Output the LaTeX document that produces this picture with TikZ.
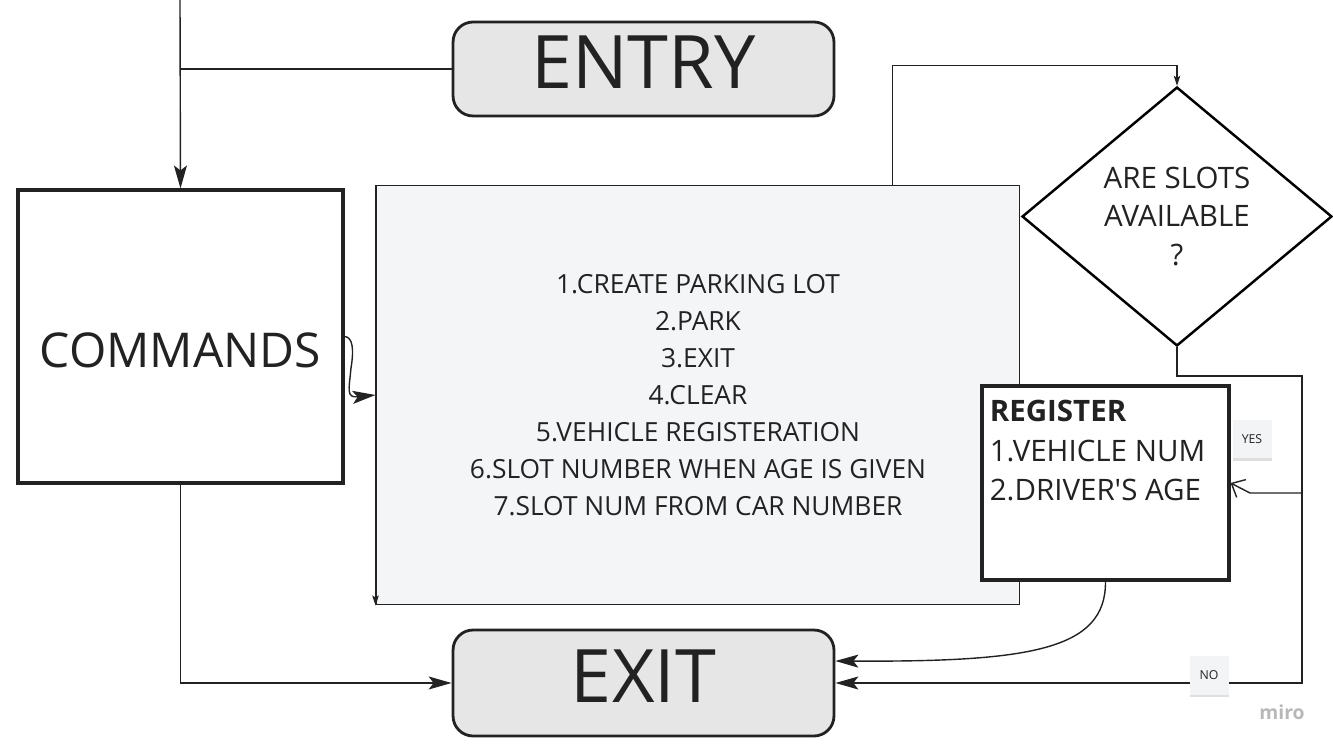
\documentclass[tikz,border=0pt]{standalone}
\usepackage{fontspec}
\setmainfont{Open Sans}
\usetikzlibrary{shapes.geometric,arrows.meta,calc,shadows}
\definecolor{ink}{HTML}{222222}
\definecolor{termfill}{HTML}{E6E6E6}
\definecolor{listfill}{HTML}{F4F5F7}
\definecolor{tagfill}{HTML}{F3F4F6}

\begin{document}
\begin{tikzpicture}[x=0.02cm,y=-0.02cm,
		line/.style={ink,line width=0.8pt},
		arr/.style={ink,line width=0.8pt,-{Stealth[length=4.6mm,width=2.6mm,inset=1mm]}},
		smallarr/.style={ink,line width=0.6pt,-{Stealth[length=2mm,width=1.3mm,inset=0.4mm]}},
		openarr/.style={ink,line width=0.8pt,-{Straight Barb[length=2.2mm,width=4mm]}},
		term/.style={draw=ink,line width=1.6pt,rounded corners=0.4cm,fill=termfill,inner sep=0pt,minimum width=7.62cm,text height=30pt,text depth=7.4pt,text=ink,font=\fontsize{42}{42}\selectfont},
		cmdbox/.style={draw=ink,line width=1.8pt,inner sep=0pt,minimum width=6.5cm,minimum height=5.86cm,text height=35.4pt,text depth=0pt,text=ink,font=\fontsize{27.3}{30}\selectfont},
		listbox/.style={draw=ink,line width=0.6pt,fill=listfill,inner sep=0pt,minimum width=12.88cm,minimum height=8.4cm,align=center,text=ink,font=\fontsize{15}{21}\selectfont},
		regbox/.style={draw=ink,line width=1.8pt,fill=white,inner sep=0pt,minimum width=4.94cm,minimum height=3.88cm},
		regtext/.style={inner sep=0pt,align=left,text=ink,font=\fontsize{16.8}{22.7}\selectfont},
		question/.style={diamond,draw=black,line width=1.4pt,fill=white,aspect=1.2,inner sep=0pt,minimum width=6.2cm,minimum height=5.18cm,align=center,text=ink,font=\fontsize{16.8}{22}\selectfont},
		tag/.style={fill=tagfill,inner sep=0pt,minimum width=0.78cm,minimum height=0.78cm,text=ink,font=\fontsize{7}{8}\selectfont,drop shadow={shadow xshift=0pt,shadow yshift=-1.2pt,opacity=0.25}}
	]
	\useasboundingbox (0,0) rectangle (1333,750);

	% ENTRYとCOMMANDSを描画
	\node[term, minimum height=1.88cm] (entry) at (643.5,69) {ENTRY};
	\node[cmdbox] (cmd) at (180.5,336.5) {COMMANDS};
	\coordinate (start) at (180,0);
	\draw[arr] (start) -- (cmd.north);
	\draw[line] (entry.west) -- (entry.west -| start);

	% コマンド一覧を描画
	\node[listbox] (list) at (698,395) {1.CREATE PARKING LOT\\2.PARK\\3.EXIT\\4.CLEAR\\5.VEHICLE REGISTERATION\\6.SLOT NUMBER WHEN AGE IS GIVEN\\7.SLOT NUM FROM CAR NUMBER};
	\draw[smallarr] (list.north west) -- (list.south west);
	\draw[arr] (cmd.east) .. controls (353,337) and (354,350) .. (351,368) .. controls (349,390) and (346,398) .. (list.west);

	% 空きスロットの判定を描画
	\node[question] (dia) at (1177,216.5) {ARE SLOTS\\AVAILABLE\\?};
	\draw[smallarr] ([xshift=-2.56cm]list.north east) |- ([yshift=0.4cm]dia.north) -- (dia.north);

	% REGISTERを描画
	\node[regbox] (reg) at (1105.5,483) {};
	\node[regtext, anchor=north west] (regtxt) at ([shift={(9,15)}]reg.north west) {\textbf{REGISTER}\\1.VEHICLE NUM\\2.DRIVER\textquotesingle S AGE};

	% EXITを描画
	\node[term, minimum height=2.12cm] (exit) at (643.5,683) {EXIT};
	\draw[arr] (cmd.south) |- (exit.west);
	\draw[arr] (reg.south) .. controls (1106,650) and (1030,662) .. ($(exit.east)+(0,-22)$);

	% YESとNOの矢印を描画
	\coordinate (corner) at (1302,376);
	\coordinate (yesjoin) at (1302,493);
	\draw[arr] (dia.south) |- (corner) |- (exit.east);
	\draw[openarr] (yesjoin) -- ++(-52,0) -- (reg.east);
	\node[tag] (yes) at (1252,439) {YES};
	\node[tag] (no) at (1209,675) {NO};

	\node[text=black!28, font=\bfseries\fontsize{11}{11}\selectfont] (miro) at (1282,712) {miro};
\end{tikzpicture}
\end{document}
